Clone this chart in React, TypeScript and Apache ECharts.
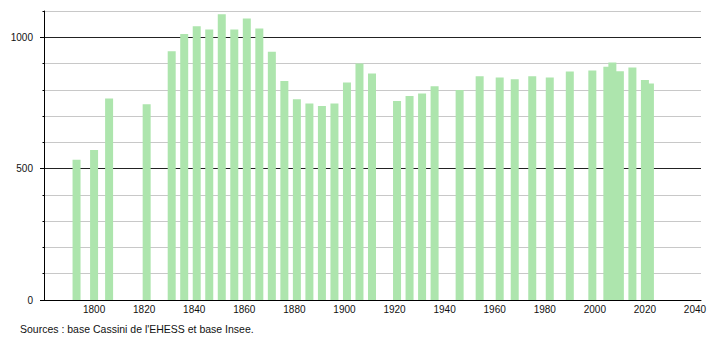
import React, { useEffect, useRef } from "react";
import * as echarts from "echarts";

const years: number[] = [
  1793, 1800, 1806, 1821, 1831, 1836, 1841, 1846, 1851, 1856, 1861, 1866, 1871,
  1876, 1881, 1886, 1891, 1896, 1901, 1906, 1911, 1921, 1926, 1931, 1936, 1946,
  1954, 1962, 1968, 1975, 1982, 1990, 1999, 2005, 2007, 2010, 2015, 2020, 2022,
];
const population: number[] = [
  534, 571, 767, 745, 947, 1012, 1042, 1030, 1088, 1030, 1071, 1033, 945,
  834, 764, 748, 738, 748, 828, 900, 862, 757, 776, 786, 814, 799,
  852, 847, 840, 852, 847, 870, 874, 888, 904, 871, 885, 837, 824,
];
const xLabelYears: number[] = [1800, 1820, 1840, 1860, 1880, 1900, 1920, 1940, 1960, 1980, 2000, 2020, 2040];
const yLabelValues: number[] = [0, 500, 1000];
const sourceText = "Sources : base Cassini de l'EHESS et base Insee.";

const FONT = "'Liberation Sans', Arial, Helvetica, sans-serif";

export default function App() {
  const ref = useRef<HTMLDivElement>(null);
  useEffect(() => {
    if (!ref.current) return;
    const chart = echarts.init(ref.current, undefined, { renderer: "svg" });
    const data = years.map((y, i) => [y, population[i]]);
    chart.setOption({
      animation: false,
      backgroundColor: "#ffffff",
      textStyle: { fontFamily: FONT },
      grid: { left: 44, right: 9, top: 11, bottom: 40, containLabel: false },
      xAxis: {
        type: "value",
        min: 1780,
        max: 2042.4,
        interval: 20,
        axisLine: { show: true, lineStyle: { color: "#000", width: 1 } },
        axisTick: { show: false },
        splitLine: { show: false },
        axisLabel: {
          customValues: xLabelYears,
          color: "#111",
          fontSize: 10,
          fontFamily: FONT,
          margin: 4,
          formatter: (v: number) => String(v),
        },
      },
      yAxis: [
        {
          type: "value",
          min: 0,
          max: 1100,
          interval: 100,
          axisLine: { show: true, lineStyle: { color: "#000", width: 1 } },
          axisTick: { show: true, length: 1.5, lineStyle: { color: "#000" } },
          axisLabel: { show: false },
          splitLine: {
            show: true,
            lineStyle: {
              color: ["#222", "#c8c8c8", "#c8c8c8", "#c8c8c8", "#c8c8c8"],
              width: 1,
            },
          },
        },
        {
          type: "value",
          position: "left",
          min: 0,
          max: 1100,
          interval: 100,
          axisLine: { show: false },
          axisTick: { show: true, customValues: yLabelValues, length: 4, lineStyle: { color: "#000" } },
          axisLabel: {
            customValues: yLabelValues,
            color: "#111",
            fontSize: 10,
            fontFamily: FONT,
            margin: 11,
            formatter: (v: number) => String(v),
          },
          splitLine: { show: false },
        },
      ],
      series: [
        {
          type: "bar",
          xAxisIndex: 0,
          yAxisIndex: 0,
          data,
          barWidth: 8,
          itemStyle: { color: "#ade5ad" },
          silent: true,
        },
      ],
      graphic: [
        {
          type: "text",
          left: 20,
          top: 323,
          style: {
            text: sourceText,
            fill: "#111",
            fontSize: 10.5,
            fontFamily: FONT,
          },
        },
      ],
    });
    return () => chart.dispose();
  }, []);
  return (
    <div
      ref={ref}
      style={{ position: "fixed", left: 0, top: 0, width: 710, height: 340 }}
    />
  );
}
